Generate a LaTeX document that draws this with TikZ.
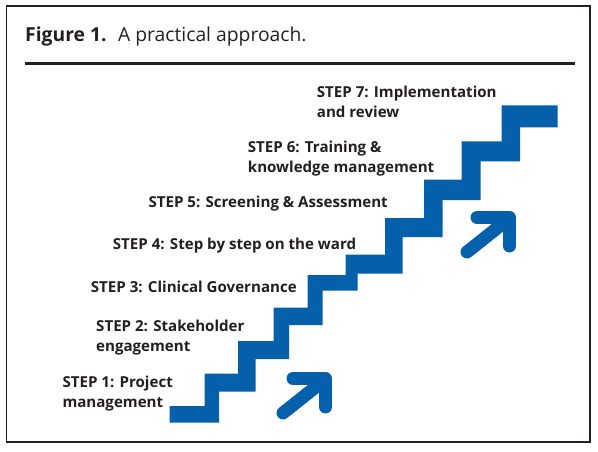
\documentclass[tikz,border=0pt]{standalone}
\usepackage{fontspec}
\setmainfont{Open Sans}
\definecolor{stairblue}{RGB}{5,96,171}
\definecolor{inkcol}{RGB}{35,31,32}
\newcommand{\lblstrut}{\rule{0pt}{13pt}}
\begin{document}
\begin{tikzpicture}[x=1pt,y=-1pt,
  lbl/.style={anchor=north west, inner sep=0pt, align=left, text=inkcol,
    font=\fontsize{15.1}{19.5}\selectfont\bfseries},
  uparrow/.style={draw=stairblue, line width=13pt, line cap=round, line join=round}]
\useasboundingbox (0,0) rectangle (598,452);
% frame
\draw[line width=1.1pt, inkcol] (6.5,6) rectangle (590,442);
% title
\node[anchor=base west, inner sep=0pt, text=inkcol, font=\fontsize{19.3}{22}\selectfont] (title) at (25,41.5)
  {\textbf{Figure 1.}\hspace{0.6em}A practical approach.};
\coordinate (ruleL) at (25,64);
\coordinate (ruleR) at (575,64);
\draw[line width=3pt, inkcol] (ruleL) -- (ruleR);
% staircase
\fill[stairblue]
  (169.5,406) -- (204.5,406) -- (204.5,373.5) -- (238,373.5) -- (238,341)
  -- (273.5,341) -- (273.5,307.5) -- (307.5,307.5) -- (307.5,275)
  -- (345.5,275) -- (345.5,254.5) -- (385,254.5) -- (385,218)
  -- (424,218) -- (424,179.5) -- (461.5,179.5) -- (461.5,141.5)
  -- (501.5,141.5) -- (501.5,105.5) -- (557.5,105.5)
  -- (557.5,127.5) -- (520,127.5) -- (520,161.5) -- (480.5,161.5)
  -- (480.5,200) -- (442.5,200) -- (442.5,237) -- (402.5,237)
  -- (402.5,273.5) -- (357.5,273.5) -- (357.5,290.5) -- (322.5,290.5)
  -- (322.5,325) -- (289,325) -- (289,359) -- (255.5,359)
  -- (255.5,391.5) -- (219,391.5) -- (219,422.5) -- (169.5,422.5) -- cycle;
% arrows
\foreach \dx/\dy in {0/0, 184/-161} {
  \begin{scope}[shift={(\dx,\dy)}]
    \draw[uparrow] (293,378.5) -- (325.5,378.5) -- (325.5,407);
    \draw[uparrow] (283,413) -- (322,382);
  \end{scope}
}
% labels (north = baseline - 13)
\node[lbl] (s1) at (62.3,374.7) {\lblstrut STEP 1: Project\\management};
\node[lbl] (s2) at (96,318.7) {\lblstrut STEP 2: Stakeholder\\engagement};
\node[lbl] (s3) at (90.7,279.7) {\lblstrut STEP 3: Clinical Governance};
\node[lbl] (s4) at (112.7,236.3) {\lblstrut STEP 4: Step by step on the ward};
\node[lbl] (s5) at (148.3,194.7) {\lblstrut STEP 5: Screening \& Assessment};
\node[lbl] (s6) at (247.7,139.3) {\lblstrut STEP 6: Training \&\\knowledge management};
\node[lbl] (s7) at (316.7,84.7) {\lblstrut STEP 7: Implementation\\and review};
\end{tikzpicture}
\end{document}
